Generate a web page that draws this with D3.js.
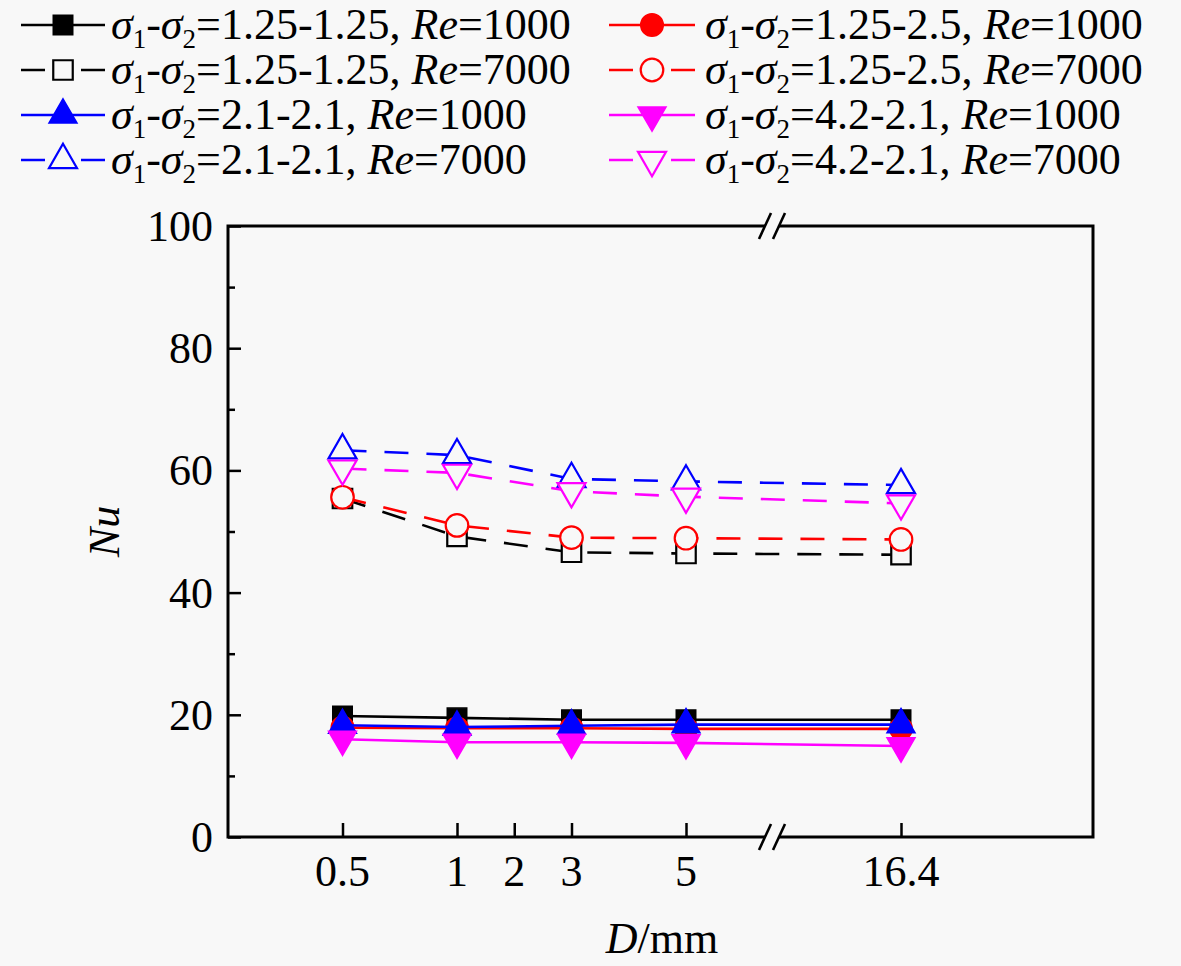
<!DOCTYPE html>
<html>
<head>
<meta charset="utf-8">
<script src="https://cdn.jsdelivr.net/npm/d3@7"></script>
<style>
    body { margin: 0; background: #f8f8f8; }
    svg { display: block; font-family: "Liberation Serif", "DejaVu Serif", serif; }
</style>
</head>
<body>
<svg id="chart" width="1181" height="966"></svg>
<script>
"use strict";

// D/mm values measured, and the ticks shown on the x axis
const diameters = [0.5, 1, 3, 5, 16.4];
const xTicks = [0.5, 1, 2, 3, 5, 16.4];
const xTickLabels = ["0.5", "1", "2", "3", "5", "16.4"];
const yTicks = [0, 20, 40, 60, 80, 100];
const yMinorTicks = [10, 30, 50, 70, 90];

// Nu
const nuSquare1000 = [19.8, 19.5, 19.2, 19.2, 19.2];
const nuSquare7000 = [55.4, 49.2, 46.6, 46.4, 46.2];
const nuCircle1000 = [17.9, 17.8, 17.8, 17.7, 17.7];
const nuCircle7000 = [55.6, 51.0, 49.0, 48.9, 48.7];
const nuTri1000 = [18.3, 18.0, 18.2, 18.4, 18.4];
const nuTri7000 = [63.3, 62.5, 58.6, 58.2, 57.6];
const nuDown1000 = [16.0, 15.5, 15.5, 15.4, 14.9];
const nuDown7000 = [60.3, 59.6, 56.6, 55.7, 54.6];

const sigmaLabels = ["1.25-1.25", "1.25-2.5", "2.1-2.1", "4.2-2.1"];
const reLabels = ["1000", "7000"];

const bg = "#f8f8f8";
const fontSize = 44;

const series = [
    {values: nuSquare1000, sigma: 0, re: 0, color: "#000000", shape: "square", filled: true, col: 0, row: 0},
    {values: nuSquare7000, sigma: 0, re: 1, color: "#000000", shape: "square", filled: false, col: 0, row: 1},
    {values: nuCircle1000, sigma: 1, re: 0, color: "#ff0000", shape: "circle", filled: true, col: 1, row: 0},
    {values: nuCircle7000, sigma: 1, re: 1, color: "#ff0000", shape: "circle", filled: false, col: 1, row: 1},
    {values: nuTri1000, sigma: 2, re: 0, color: "#0000ff", shape: "up", filled: true, col: 0, row: 2},
    {values: nuTri7000, sigma: 2, re: 1, color: "#0000ff", shape: "up", filled: false, col: 0, row: 3},
    {values: nuDown1000, sigma: 3, re: 0, color: "#ff00ff", shape: "down", filled: true, col: 1, row: 2},
    {values: nuDown7000, sigma: 3, re: 1, color: "#ff00ff", shape: "down", filled: false, col: 1, row: 3},
];

const plotLeft = 228, plotRight = 1093, plotTop = 226, plotBottom = 837;
const breakValue = 6.5;

const svg = d3.select("#chart");
svg.append("rect").attr("width", 1181).attr("height", 966).attr("fill", bg);

// broken axis: piecewise linear scale
const x = d3.scaleLinear()
    .domain([0, 1, 5, breakValue, 16.4, 20])
    .range([plotLeft, 457, 686, 772, 901, plotRight]);
const y = d3.scaleLinear().domain([0, 100]).range([plotBottom, plotTop]);

function symbolPath(shape) {
    if (shape === "square") return d3.symbol(d3.symbolSquare, 380)();
    if (shape === "circle") return d3.symbol(d3.symbolCircle, 400)();
    return d3.symbol(d3.symbolTriangle, 340)();
}

function drawMarker(g, s, cx, cy) {
    g.append("path")
        .attr("d", symbolPath(s.shape))
        .attr("transform", "translate(" + cx + "," + cy + ")" + (s.shape === "down" ? " rotate(180)" : ""))
        .attr("fill", s.filled ? s.color : bg)
        .attr("stroke", s.color)
        .attr("stroke-width", s.filled ? 1.5 : 2.2);
}

// data
const line = d3.line()
    .x((d, i) => x(diameters[i]))
    .y(d => y(d));

const plot = svg.append("g");
for (const s of series) {
    plot.append("path")
        .datum(s.values)
        .attr("d", line)
        .attr("fill", "none")
        .attr("stroke", s.color)
        .attr("stroke-width", 2.6)
        .attr("stroke-dasharray", s.re === 1 ? "24 18" : null);
    s.values.forEach((v, i) => drawMarker(plot, s, x(diameters[i]), y(v)));
}

// frame
svg.append("rect")
    .attr("x", plotLeft).attr("y", plotTop)
    .attr("width", plotRight - plotLeft).attr("height", plotBottom - plotTop)
    .attr("fill", "none").attr("stroke", "#000").attr("stroke-width", 3);

// y axis ticks (inside)
const yAxis = svg.append("g").attr("transform", "translate(" + plotLeft + ",0)")
    .call(d3.axisRight(y).tickValues(yTicks).tickSize(13).tickFormat(""));
yAxis.select(".domain").remove();
yAxis.selectAll("line").attr("stroke-width", 2.5);
const yMinor = svg.append("g").attr("transform", "translate(" + plotLeft + ",0)")
    .call(d3.axisRight(y).tickValues(yMinorTicks).tickSize(7).tickFormat(""));
yMinor.select(".domain").remove();
yMinor.selectAll("line").attr("stroke-width", 2.5);

svg.selectAll(".ylab")
    .data(yTicks)
    .enter().append("text")
    .attr("x", 213)
    .attr("y", d => y(d) + 15)
    .attr("text-anchor", "end")
    .attr("font-size", fontSize)
    .text(d => d);

// x axis ticks (inside)
const xAxis = svg.append("g").attr("transform", "translate(0," + plotBottom + ")")
    .call(d3.axisTop(x).tickValues(xTicks).tickSize(14).tickFormat(""));
xAxis.select(".domain").remove();
xAxis.selectAll("line").attr("stroke-width", 2.5);

svg.selectAll(".xlab")
    .data(xTicks)
    .enter().append("text")
    .attr("x", d => x(d))
    .attr("y", 886)
    .attr("text-anchor", "middle")
    .attr("font-size", fontSize)
    .text((d, i) => xTickLabels[i]);

// break marks on top and bottom edges
for (const yy of [plotTop, plotBottom]) {
    const bx = x(breakValue);
    svg.append("rect")
        .attr("x", bx - 7).attr("y", yy - 3).attr("width", 14).attr("height", 6)
        .attr("fill", bg);
    for (const dx of [-7, 7]) {
        svg.append("line")
            .attr("x1", bx + dx - 6).attr("y1", yy + 13)
            .attr("x2", bx + dx + 6).attr("y2", yy - 13)
            .attr("stroke", "#000").attr("stroke-width", 2.6);
    }
}

// axis titles
svg.append("text")
    .attr("transform", "translate(119," + ((plotTop + plotBottom) / 2) + ") rotate(-90)")
    .attr("text-anchor", "middle")
    .attr("font-size", fontSize)
    .attr("font-style", "italic")
    .text("Nu");

const xTitle = svg.append("text")
    .attr("x", 662).attr("y", 953)
    .attr("text-anchor", "middle")
    .attr("font-size", fontSize);
xTitle.append("tspan").attr("font-style", "italic").text("D");
xTitle.append("tspan").text("/mm");

// legend
const legendCols = [{x0: 21, x1: 105, tx: 111}, {x0: 609, x1: 695, tx: 705}];
const rowY = [25, 70, 115, 160];
const legend = svg.append("g");
for (const s of series) {
    const c = legendCols[s.col];
    const cy = rowY[s.row];
    const len = c.x1 - c.x0;
    legend.append("line")
        .attr("x1", c.x0).attr("x2", c.x1).attr("y1", cy).attr("y2", cy)
        .attr("stroke", s.color).attr("stroke-width", 2.6)
        .attr("stroke-dasharray", s.re === 1 ? "24 " + (len - 48) + " 24" : null);
    drawMarker(legend, s, (c.x0 + c.x1) / 2, cy);

    const t = legend.append("text")
        .attr("x", c.tx).attr("y", cy + 14)
        .attr("font-size", fontSize);
    t.append("tspan").attr("font-style", "italic").text("σ");
    t.append("tspan").attr("font-size", 27).attr("dy", 9).text("1");
    t.append("tspan").attr("dy", -9).text("-");
    t.append("tspan").attr("font-style", "italic").text("σ");
    t.append("tspan").attr("font-size", 27).attr("dy", 9).text("2");
    t.append("tspan").attr("dy", -9).text("=" + sigmaLabels[s.sigma] + ", ");
    t.append("tspan").attr("font-style", "italic").text("Re");
    t.append("tspan").text("=" + reLabels[s.re]);
}
</script>
</body>
</html>
